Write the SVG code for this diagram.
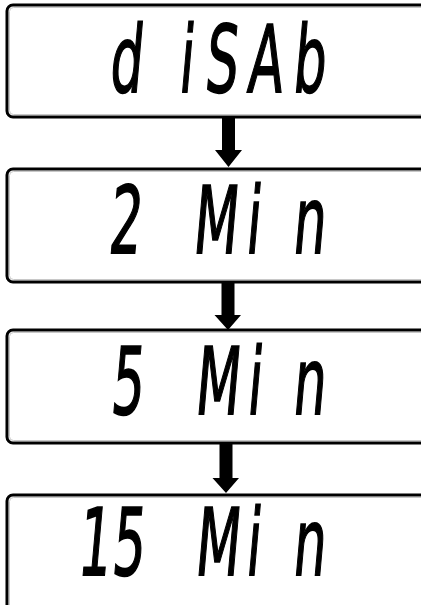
<svg xmlns="http://www.w3.org/2000/svg" width="421" height="605" viewBox="0 0 421 605">
<style>
.box{fill:#ffffff;stroke:#000000;stroke-width:3}
.inner{fill:none;stroke:#c8c8c8;stroke-width:1}
.seg{font-family:"DejaVu Sans","Liberation Sans",sans-serif;font-weight:normal;font-size:93px;fill:#000000;stroke:#000000;stroke-width:1.8;text-anchor:middle}
.arrow{fill:#000000}
</style>
<rect width="421" height="605" fill="#ffffff"/>
<g id="connectors">
<polygon class="arrow" points="222,117 235,117 235,150 242,150 228.5,167 215,150 222,150"/>
<polygon class="arrow" points="221.5,282 234.5,282 234.5,315 241,315 228,330 214.5,315 221.5,315"/>
<polygon class="arrow" points="219.5,443 232.5,443 232.5,478 239,478 226,493 212.5,478 219.5,478"/>
</g>
<g id="node-disab">
<rect class="box" x="7" y="5" width="440" height="112" rx="6"/>
<rect class="inner" x="9.5" y="7.5" width="440" height="107" rx="4"/>
<text class="seg" transform="translate(0,92) skewX(-5) scale(0.55,1)" x="227 336 400 480 560" y="0">diSAb</text>
</g>
<g id="node-2min">
<rect class="box" x="7" y="169" width="440" height="113" rx="6"/>
<rect class="inner" x="9.5" y="171.5" width="440" height="108" rx="4"/>
<text class="seg" transform="translate(0,253) skewX(-5) scale(0.55,1)" x="225 389 458 560" y="0">2Min</text>
</g>
<g id="node-5min">
<rect class="box" x="7" y="330" width="440" height="113" rx="6"/>
<rect class="inner" x="9.5" y="332.5" width="440" height="108" rx="4"/>
<text class="seg" transform="translate(0,414) skewX(-5) scale(0.55,1)" x="229 393 460 560" y="0">5Min</text>
</g>
<g id="node-15min">
<rect class="box" x="7" y="495" width="440" height="140" rx="6"/>
<rect class="inner" x="9.5" y="497.5" width="440" height="135" rx="4"/>
<text class="seg" transform="translate(0,575) skewX(-5) scale(0.55,1)" x="169 231 393 458 560" y="0">15Min</text>
</g>
</svg>
